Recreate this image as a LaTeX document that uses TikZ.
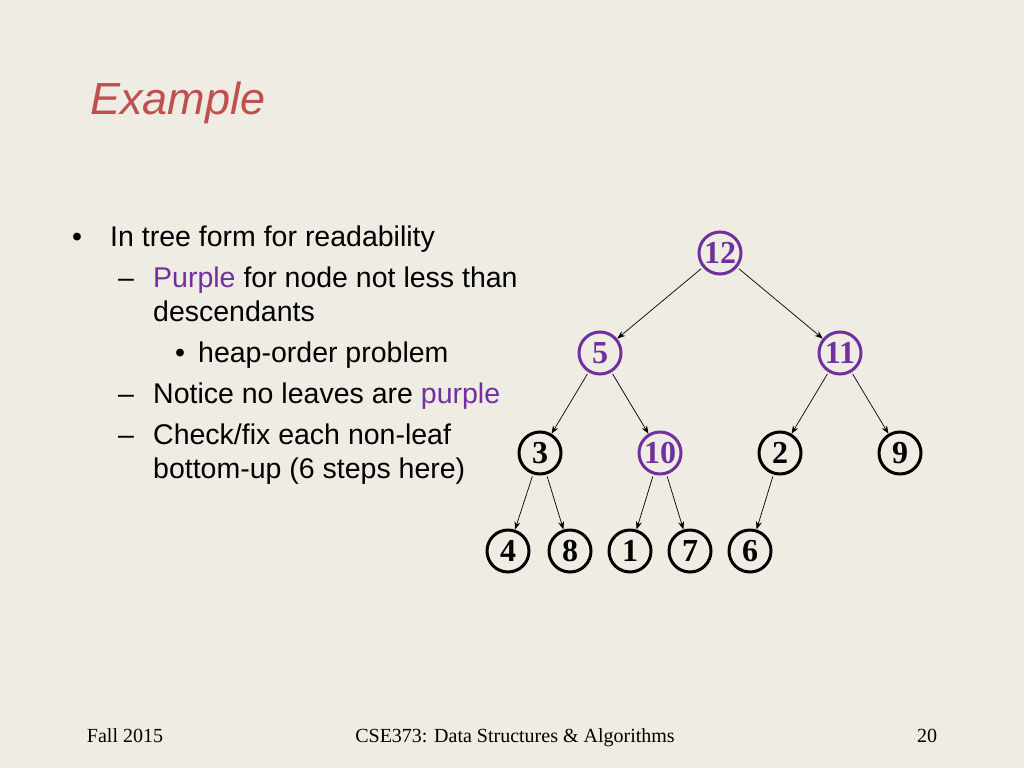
\documentclass[tikz,border=0pt]{standalone}
\usepackage{fontspec}
\setmainfont{Liberation Serif}
\setsansfont{Liberation Sans}
\usetikzlibrary{arrows.meta}
\definecolor{bg}{HTML}{EEECE3}
\definecolor{ttl}{HTML}{C0504D}
\definecolor{purp}{HTML}{7030A0}
\begin{document}
\begin{tikzpicture}[x=1pt,y=-1pt,
  hn/.style={circle,draw,line width=3pt,minimum size=42pt,inner sep=0pt,font=\fontsize{32}{32}\selectfont\bfseries},
  pn/.style={hn,draw=purp,text=purp},
  ed/.style={-{Stealth[length=8pt,width=6pt]},line width=0.7pt,shorten <=2pt},
  tx/.style={anchor=base west,inner sep=0pt,font=\sffamily\fontsize{28.5}{28.5}\selectfont},
  ft/.style={anchor=base,inner sep=0pt,font=\fontsize{20}{20}\selectfont}]
\fill[bg] (0,0) rectangle (1024,768);
\useasboundingbox (0,0) rectangle (1024,768);
\node[tx,text=ttl,font=\sffamily\itshape\fontsize{45}{45}\selectfont] (title) at (90,114) {Example};
\node[tx] (b1) at (72,246) {\textbullet};
\node[tx] (t1) at (110,246) {In tree form for readability};
\node[tx] (d1) at (118,287) {--};
\node[tx] (t2) at (153,287) {\textcolor{purp}{Purple} for node not less than};
\node[tx] (t3) at (153,321) {descendants};
\node[tx] (b2) at (175,362) {\textbullet};
\node[tx] (t4) at (198,362) {heap-order problem};
\node[tx] (d2) at (118,403) {--};
\node[tx] (t5) at (153,403) {Notice no leaves are \textcolor{purp}{purple}};
\node[tx] (d3) at (118,444) {--};
\node[tx] (t6) at (153,444) {Check/fix each non-leaf};
\node[tx] (t7) at (153,478) {bottom-up (6 steps here)};
\node[pn] (n12) at (720,253) {12};
\node[pn] (n5) at (600,353) {5};
\node[pn] (n11) at (840,353) {11};
\node[hn] (n3) at (540,453) {3};
\node[pn] (n10) at (660,453) {10};
\node[hn] (n2) at (780,453) {2};
\node[hn] (n9) at (900,453) {9};
\node[hn] (n4) at (508,551) {4};
\node[hn] (n8) at (570,551) {8};
\node[hn] (n1) at (630,551) {1};
\node[hn] (n7) at (690,551) {7};
\node[hn] (n6) at (750,551) {6};
\draw[ed] (n12) -- (n5);
\draw[ed] (n12) -- (n11);
\draw[ed] (n5) -- (n3);
\draw[ed] (n5) -- (n10);
\draw[ed] (n11) -- (n2);
\draw[ed] (n11) -- (n9);
\draw[ed] (n3) -- (n4);
\draw[ed] (n3) -- (n8);
\draw[ed] (n10) -- (n1);
\draw[ed] (n10) -- (n7);
\draw[ed] (n2) -- (n6);
\node[ft] (f1) at (125,742) {Fall 2015};
\node[ft] (f2) at (515,742) {CSE373: Data Structures \& Algorithms};
\node[ft] (f3) at (927,742) {20};
\end{tikzpicture}
\end{document}
